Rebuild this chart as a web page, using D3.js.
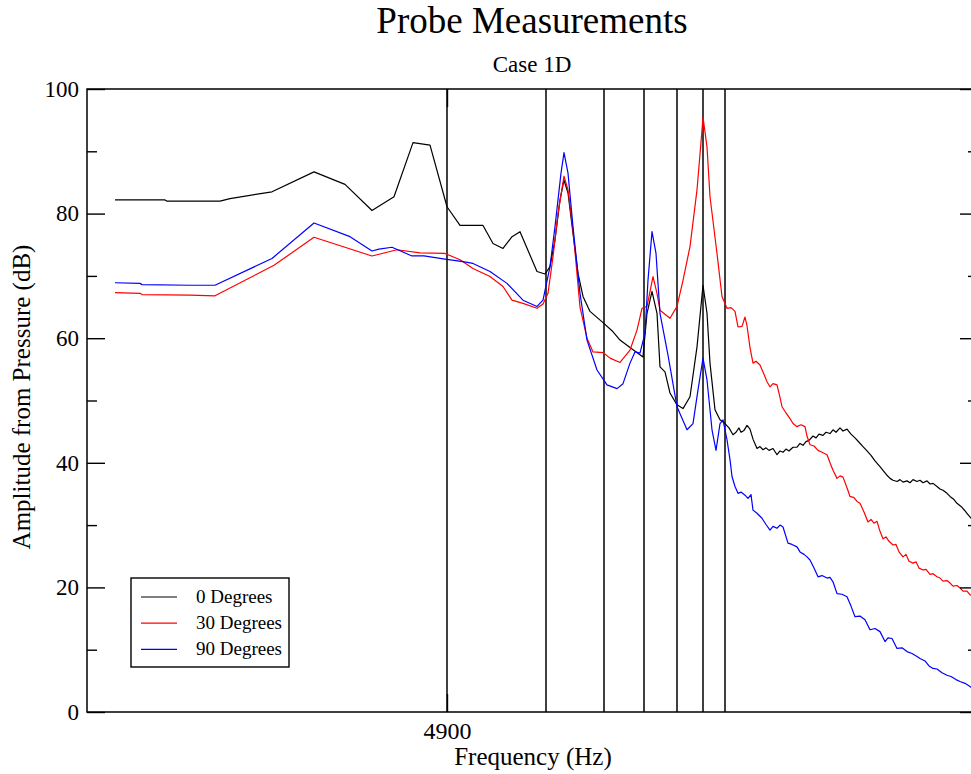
<!DOCTYPE html>
<html>
<head>
  <meta charset="utf-8">
  <title>Probe Measurements</title>
<style>
  body { margin: 0; background: #fff; }
  svg text { font-family: "Liberation Serif", "Times New Roman", serif; fill: #000; }
  .axis path { display: none; }
  .axis line { stroke: #000; stroke-width: 1.4px; }
  .axis text { font-size: 23px; }
  .series { fill: none; stroke-width: 1.2px; stroke-linejoin: round; }
  .marker { stroke: #000; stroke-width: 1.5px; }
</style>
</head>
<body>
<svg width="971" height="774"></svg>
<script src="https://cdn.jsdelivr.net/npm/d3@7"></script>
<script>

// Data
var black_f = [4866.8, 4871.8, 4872.0, 4877.3, 4878.3, 4882.5, 4886.7, 4889.8, 4892.5, 4894.7, 4896.6, 4898.3,
  4900.0, 4901.3, 4903.6, 4904.6, 4905.6, 4906.5, 4907.3, 4909.0, 4909.8, 4910.3, 4910.8, 4911.3, 4911.7,
  4912.1, 4912.6, 4913.1, 4913.6, 4914.3, 4915.6, 4916.5, 4917.3, 4918.3, 4919.6, 4920.0, 4920.5, 4921.0,
  4921.3, 4921.8, 4922.3, 4923.0, 4923.6, 4924.3, 4925.0, 4925.6, 4926.0, 4926.3, 4926.8, 4927.3, 4927.8,
  4928.2, 4928.6, 4928.9, 4929.2, 4929.4, 4929.7, 4930.0, 4930.3, 4930.6, 4931.0, 4931.3, 4931.6, 4931.9,
  4932.2, 4932.6, 4933.0, 4933.3, 4933.6, 4933.9, 4934.2, 4934.6, 4935.0, 4935.3, 4935.6, 4935.9, 4936.2,
  4936.6, 4936.9, 4937.2, 4937.6, 4937.9, 4938.3, 4938.6, 4938.9, 4939.3, 4939.6, 4940.0, 4940.4, 4940.8,
  4941.2, 4941.6, 4942.0, 4942.4, 4942.8, 4943.3, 4943.7, 4944.0, 4944.3, 4944.6, 4945.0, 4945.3, 4945.6,
  4946.0, 4946.3, 4946.6, 4947.0, 4947.3, 4947.6, 4948.0, 4948.3, 4948.6, 4949.0, 4949.3, 4949.6, 4950.0,
  4950.3, 4950.7, 4951.0, 4951.4, 4951.8, 4952.1, 4952.4, 4953.0];
var black_db = [82.2, 82.2, 82.0, 82.0, 82.4, 83.5, 86.7, 84.7, 80.5, 82.7, 91.4, 91.0,
  81.1, 78.1, 78.1, 75.2, 74.4, 76.3, 77.1, 70.7, 70.3, 71.5, 75.8, 82.2, 85.4,
  83.3, 76.8, 70.4, 66.7, 64.3, 62.5, 61.2, 59.7, 58.5, 57.0, 64.0, 67.5, 64.0,
  55.4, 54.6, 51.2, 49.3, 48.7, 50.6, 58.6, 68.5, 64.0, 56.0, 48.5, 46.9, 46.3,
  45.6, 44.5, 44.9, 45.6, 44.9, 45.2, 46.0, 45.4, 43.8, 42.3, 42.6, 42.1, 42.4,
  42.0, 42.3, 41.3, 41.9, 41.7, 42.2, 41.9, 42.5, 42.5, 43.1, 42.8, 43.4, 43.6,
  44.3, 44.0, 44.6, 44.4, 44.9, 44.7, 45.3, 44.9, 45.6, 45.1, 45.4, 44.6, 44.0,
  43.3, 42.6, 41.9, 41.2, 40.3, 39.4, 38.6, 38.0, 37.5, 37.2, 37.0, 37.3, 36.9,
  37.1, 36.8, 37.3, 37.0, 37.2, 36.8, 37.1, 36.6, 36.7, 36.2, 35.8, 35.6, 35.1,
  34.6, 34.1, 33.5, 33.0, 32.3, 31.7, 31.1, 30.4];

var red_f = [4866.8, 4869.3, 4869.5, 4874.3, 4876.8, 4882.7, 4886.7, 4892.5, 4895.0, 4897.3, 4899.8, 4901.3,
  4902.6, 4904.3, 4905.6, 4906.5, 4907.6, 4909.0, 4909.6, 4910.1, 4910.6, 4911.1, 4911.7, 4912.1, 4912.6,
  4913.3, 4914.0, 4914.6, 4915.6, 4916.3, 4917.3, 4918.3, 4919.0, 4919.5, 4920.0, 4920.6, 4921.0, 4921.3,
  4922.3, 4923.0, 4923.6, 4924.3, 4925.0, 4925.5, 4925.6, 4926.0, 4926.3, 4927.0, 4927.5,
  4928.0, 4928.4, 4928.8, 4929.1, 4929.5, 4929.8, 4930.0, 4930.3, 4930.6, 4930.9, 4931.3, 4931.7, 4932.0,
  4932.3, 4932.6, 4933.0, 4933.3, 4933.5, 4933.9, 4934.3, 4934.6, 4935.0, 4935.4, 4935.8, 4936.0, 4936.3,
  4936.7, 4937.1, 4937.5, 4938.0, 4938.3, 4938.6, 4939.0, 4939.3, 4939.6, 4940.0, 4940.3, 4940.7, 4941.0,
  4941.3, 4941.7, 4942.1, 4942.4, 4942.7, 4943.0, 4943.3, 4943.6, 4943.9, 4944.2, 4944.6, 4944.9, 4945.2,
  4945.6, 4945.9, 4946.2, 4946.6, 4946.9, 4947.2, 4947.6, 4947.9, 4948.3, 4948.6, 4949.0, 4949.3, 4949.6,
  4950.0, 4950.3, 4950.6, 4951.0, 4951.3, 4951.6, 4952.0, 4952.3, 4952.7, 4953.0];
var red_db = [67.3, 67.2, 67.0, 66.9, 66.8, 71.7, 76.2, 73.2, 74.2, 73.7, 73.6, 72.6,
  71.2, 69.9, 68.3, 66.1, 65.6, 64.8, 65.5, 67.2, 73.1, 80.0, 86.0, 83.8, 77.4,
  65.0, 60.0, 57.8, 57.7, 56.8, 56.1, 58.1, 61.3, 64.8, 65.1, 69.9, 67.2, 64.5,
  63.2, 65.1, 69.3, 74.7, 83.8, 93.4, 95.5, 90.7, 82.7, 73.6, 66.7,
  64.8, 64.9, 64.3, 61.8, 61.9, 63.4, 62.0, 58.5, 56.0, 56.3, 55.7, 54.2, 53.0,
  52.2, 52.7, 52.5, 50.5, 49.0, 48.0, 47.1, 46.3, 45.8, 46.1, 45.8, 44.3, 42.9,
  42.7, 42.0, 41.7, 41.3, 40.0, 38.8, 37.5, 37.9, 37.7, 36.0, 34.6, 34.4, 33.8,
  33.5, 32.1, 30.5, 30.9, 30.3, 30.6, 29.0, 27.8, 28.1, 27.4, 26.8, 26.9, 25.7,
  24.9, 25.3, 24.2, 23.9, 24.1, 23.1, 22.8, 22.9, 22.1, 22.2, 21.7, 21.5, 21.0,
  21.1, 20.7, 20.2, 20.3, 19.9, 19.4, 19.4, 18.8, 18.7, 18.4];

var blue_f = [4866.8, 4869.3, 4869.5, 4874.3, 4876.8, 4882.5, 4886.7, 4890.3, 4892.5, 4893.2, 4894.5, 4896.5,
  4897.7, 4899.8, 4901.6, 4902.6, 4904.3, 4906.0, 4907.6, 4909.0, 4909.6, 4910.3, 4910.8, 4911.4, 4911.7,
  4912.1, 4912.6, 4913.3, 4914.0, 4915.0, 4916.0, 4917.0, 4917.6, 4918.3, 4918.8, 4919.3, 4919.8, 4920.1,
  4920.5, 4920.9, 4921.3, 4922.1, 4923.0, 4924.0, 4924.6, 4925.1, 4925.6, 4926.0, 4926.5, 4926.9, 4927.3,
  4927.6, 4928.0, 4928.3, 4928.5, 4928.8, 4929.1, 4929.4, 4929.8, 4930.1, 4930.4, 4930.6, 4931.0, 4931.5,
  4931.9, 4932.3, 4932.6, 4933.0, 4933.3, 4933.6, 4934.1, 4934.5, 4935.0, 4935.3, 4935.7, 4936.0, 4936.3,
  4936.7, 4937.1, 4937.5, 4938.0, 4938.3, 4938.6, 4939.0, 4939.5, 4940.0, 4940.4, 4940.8, 4941.3, 4941.8,
  4942.3, 4942.8, 4943.3, 4943.8, 4944.1, 4944.5, 4945.0, 4945.5, 4946.0, 4946.5, 4947.0, 4947.3, 4947.8,
  4948.2, 4948.6, 4949.0, 4949.5, 4950.0, 4950.4, 4950.9, 4951.3, 4951.8, 4952.3, 4952.7, 4953.0];
var blue_db = [68.9, 68.8, 68.6, 68.5, 68.5, 72.8, 78.5, 76.3, 74.0, 74.3, 74.6, 73.2,
  73.2, 72.7, 72.3, 72.0, 70.7, 68.8, 66.1, 65.1, 66.1, 71.5, 77.9, 86.5, 89.8,
  86.5, 77.9, 67.2, 59.7, 54.9, 52.5, 51.9, 52.7, 56.0, 57.8, 57.6, 60.8, 69.3,
  77.1, 73.6, 64.0, 57.3, 49.0, 45.3, 46.3, 51.7, 56.8, 53.3, 45.3, 42.0, 46.3,
  46.9, 43.7, 40.5, 37.8, 36.2, 35.1, 35.3, 34.8, 34.3, 34.9, 32.4, 31.9, 31.1,
  30.1, 29.2, 29.8, 29.5, 30.0, 29.7, 27.1, 26.9, 26.5, 25.7, 25.3, 24.9, 24.4,
  23.1, 21.7, 21.9, 21.5, 21.6, 20.9, 19.0, 18.9, 18.5, 17.0, 15.3, 15.4, 14.8,
  13.2, 13.4, 12.9, 11.3, 11.9, 11.8, 10.2, 10.3, 9.7, 9.4, 8.9, 8.6, 8.2,
  7.4, 7.0, 6.9, 6.3, 5.9, 5.7, 5.2, 4.9, 4.6, 4.1, 3.6, 3.4];

var series_names = ["0 Degrees", "30 Degrees", "90 Degrees"];
var series_colors = ["#000000", "#ff0000", "#0000ff"];
var marker_f = [4900.0, 4909.9, 4915.7, 4919.7, 4923.0, 4925.6, 4927.8];
var y_major = [0, 20, 40, 60, 80, 100];
var y_minor = [10, 30, 50, 70, 90];
var x_major = [4900];

var series = [
  {name: series_names[0], color: series_colors[0], f: black_f, v: black_db},
  {name: series_names[1], color: series_colors[1], f: red_f, v: red_db},
  {name: series_names[2], color: series_colors[2], f: blue_f, v: blue_db}
];

var svg = d3.select("svg");
// plot box (right edge falls just past the window, as in the original)
var plotL = 87, plotR = 978, plotT = 89, plotB = 712;

var x = d3.scaleLinear().domain([4864, 4953.1]).range([plotL, plotR]);
var y = d3.scaleLinear().domain([0, 100]).range([plotB, plotT]);

// clip for the data
svg.append("clipPath").attr("id", "plot")
  .append("rect").attr("x", plotL).attr("y", plotT).attr("width", plotR - plotL).attr("height", plotB - plotT);

// marker lines
svg.append("g").selectAll("line")
  .data(marker_f)
  .enter().append("line")
    .attr("class", "marker")
    .attr("x1", function(d) { return x(d); })
    .attr("x2", function(d) { return x(d); })
    .attr("y1", plotT)
    .attr("y2", plotB);

// the curves
var line = d3.line()
  .x(function(d) { return x(d[0]); })
  .y(function(d) { return y(d[1]); });

svg.append("g").attr("clip-path", "url(#plot)")
  .selectAll("path")
  .data(series)
  .enter().append("path")
    .attr("class", "series")
    .attr("stroke", function(d) { return d.color; })
    .attr("d", function(d) { return line(d3.zip(d.f, d.v)); });

// axes: ticks point inward
svg.append("g").attr("class", "axis").attr("transform", "translate(" + plotL + ",0)")
  .call(d3.axisLeft(y).tickValues(y_major).tickSize(-18).tickPadding(8).tickFormat(d3.format("d")));
svg.append("g").attr("class", "axis").attr("transform", "translate(" + plotL + ",0)")
  .call(d3.axisLeft(y).tickValues(y_minor).tickSize(-10).tickFormat(""));
svg.append("g").attr("class", "axis").attr("transform", "translate(" + plotR + ",0)")
  .call(d3.axisRight(y).tickValues(y_major).tickSize(-18).tickFormat(""));
svg.append("g").attr("class", "axis").attr("transform", "translate(" + plotR + ",0)")
  .call(d3.axisRight(y).tickValues(y_minor).tickSize(-10).tickFormat(""));
svg.append("g").attr("class", "axis").attr("transform", "translate(0," + plotB + ")")
  .call(d3.axisBottom(x).tickValues(x_major).tickSize(-18).tickPadding(10).tickFormat(d3.format("d")))
  .selectAll("text").style("font-size", "24px");
svg.append("g").attr("class", "axis").attr("transform", "translate(0," + plotT + ")")
  .call(d3.axisTop(x).tickValues(x_major).tickSize(-18).tickFormat(""));

// frame
svg.append("rect")
  .attr("x", plotL).attr("y", plotT)
  .attr("width", plotR - plotL).attr("height", plotB - plotT)
  .attr("fill", "none").attr("stroke", "#000").attr("stroke-width", 1.5);

// titles
svg.append("text").attr("x", 532).attr("y", 33).attr("text-anchor", "middle")
  .style("font-size", "37px").text("Probe Measurements");
svg.append("text").attr("x", 532).attr("y", 72).attr("text-anchor", "middle")
  .style("font-size", "23px").text("Case 1D");
svg.append("text").attr("x", 533).attr("y", 765).attr("text-anchor", "middle")
  .style("font-size", "25px").text("Frequency (Hz)");
svg.append("text").attr("transform", "translate(30,397) rotate(-90)").attr("text-anchor", "middle")
  .style("font-size", "25px").text("Amplitude from Pressure (dB)");

// legend
var lg = svg.append("g").attr("transform", "translate(131,578)");
lg.append("rect").attr("width", 158).attr("height", 89)
  .attr("fill", "#fff").attr("stroke", "#000").attr("stroke-width", 1.4);
var rows = lg.selectAll("g.row")
  .data(series)
  .enter().append("g")
    .attr("class", "row")
    .attr("transform", function(d, i) { return "translate(0," + (19 + i * 26.2) + ")"; });
rows.append("line")
  .attr("x1", 10).attr("x2", 46)
  .attr("stroke", function(d) { return d.color; })
  .attr("stroke-width", 1.2);
rows.append("text")
  .attr("x", 65).attr("y", 6)
  .style("font-size", "19px")
  .text(function(d) { return d.name; });

</script>
</body>
</html>
